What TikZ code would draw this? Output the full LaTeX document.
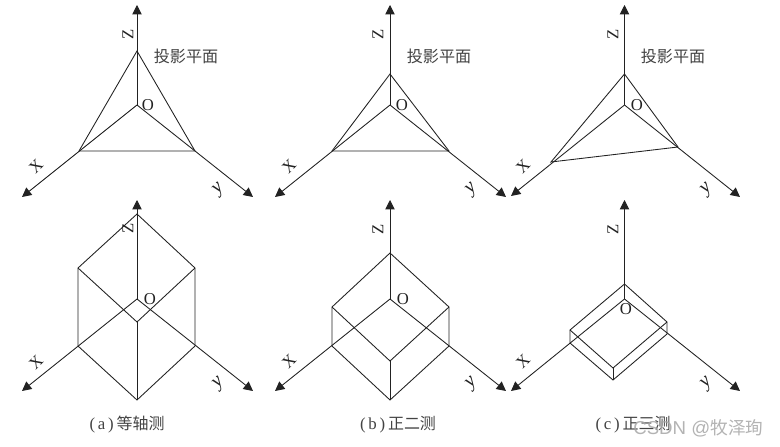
\documentclass[tikz,border=0pt]{standalone}
\usepackage{fontspec}
\setmainfont{Liberation Serif}
\newfontfamily\cjk{Noto Sans CJK SC}[Scale=0.95]
\newfontfamily\wm{Liberation Sans}
\usetikzlibrary{arrows.meta}
\definecolor{ink}{HTML}{222222}
\tikzset{
  ln/.style={draw=ink,line width=0.65pt},
  axis/.style={ln,-{Triangle[length=7pt,width=7pt]}},
  lab/.style={font=\fontsize{12.5}{13}\selectfont,text=ink,inner sep=0pt},
  zlab/.style={lab,rotate=90},
  xlab/.style={lab,rotate=45},
  ylab/.style={lab,font=\fontsize{15}{15}\selectfont\itshape,rotate=45},
  plane/.style={font=\fontsize{12.7}{13}\selectfont\cjk,text=ink!85,inner sep=0pt},
  capt/.style={font=\fontsize{12.6}{13}\selectfont,text=ink!85,inner sep=0pt},
  wmark/.style={font=\fontsize{14}{14}\selectfont\wm,text=gray!70,inner sep=0pt,opacity=.85},
  pt/.style={inner sep=0pt,minimum size=0pt}
}
\begin{document}
\begin{tikzpicture}[x=0.75pt,y=-0.75pt]
\useasboundingbox (0,0) rectangle (780,446);
\fill[white] (0,0) rectangle (780,446);

% --- panel a, top
\node[pt] (aO) at (137,105) {}; \node[pt] (aZ) at (137,5) {};
\node[pt] (aX) at (22,197) {}; \node[pt] (aY) at (253,197) {};
\node[pt] (aP) at (137,51) {}; \node[pt] (aQ) at (79,151) {}; \node[pt] (aR) at (195,151) {};
\draw[axis] (aO.center) -- (aZ.center);
\draw[axis] (aO.center) -- (aX.center);
\draw[axis] (aO.center) -- (aY.center);
\draw[ln] (aP.center) -- (aQ.center) -- (aR.center) -- cycle;
\node[zlab] (aZl) at (128,34) {Z};
\node[xlab] (aXl) at (36,166) {X};
\node[ylab] (aYl) at (219,190) {y};
\node[lab] (aOl) at (148,105) {O};
\node[plane] (aPl) at (186,56) {投影平面};

% --- panel a, bottom
\node[pt] (AO) at (137,299) {}; \node[pt] (AZ) at (137,200) {};
\node[pt] (AX) at (22,391) {}; \node[pt] (AY) at (253,391) {};
\node[pt] (At) at (137,214) {}; \node[pt] (Alu) at (78,268) {}; \node[pt] (All) at (78,346) {};
\node[pt] (Aru) at (195,268) {}; \node[pt] (Arl) at (195,346) {};
\node[pt] (Ab) at (137,400) {}; \node[pt] (Ac) at (137,322) {};
\draw[axis] (AO.center) -- (AZ.center);
\draw[axis] (AO.center) -- (AX.center);
\draw[axis] (AO.center) -- (AY.center);
\draw[ln] (At.center) -- (Alu.center) -- (All.center) -- (Ab.center) -- (Arl.center) -- (Aru.center) -- cycle;
\draw[ln] (Alu.center) -- (Ac.center) -- (Aru.center);
\draw[ln] (Ac.center) -- (Ab.center);
\node[zlab] (AZl) at (128,228) {Z};
\node[xlab] (AXl) at (36,362) {X};
\node[ylab] (AYl) at (219,384) {y};
\node[lab] (AOl) at (150,299) {O};
\node[capt] (Acap) at (127,425) {(\,a\,)\,{\cjk 等轴测}};

% --- panel b, top
\node[pt] (bO) at (390,105) {}; \node[pt] (bZ) at (390,5) {};
\node[pt] (bX) at (275,197) {}; \node[pt] (bY) at (506,197) {};
\node[pt] (bP) at (390,74) {}; \node[pt] (bQ) at (332,151) {}; \node[pt] (bR) at (449,151) {};
\draw[axis] (bO.center) -- (bZ.center);
\draw[axis] (bO.center) -- (bX.center);
\draw[axis] (bO.center) -- (bY.center);
\draw[ln] (bP.center) -- (bQ.center) -- (bR.center) -- cycle;
\node[zlab] (bZl) at (378,34) {Z};
\node[xlab] (bXl) at (289,166) {X};
\node[ylab] (bYl) at (472,190) {y};
\node[lab] (bOl) at (402,105) {O};
\node[plane] (bPl) at (439,56) {投影平面};

% --- panel b, bottom
\node[pt] (BO) at (390,299) {}; \node[pt] (BZ) at (390,200) {};
\node[pt] (BX) at (275,391) {}; \node[pt] (BY) at (506,391) {};
\node[pt] (Bt) at (390,253) {}; \node[pt] (Blu) at (332,307) {}; \node[pt] (Bll) at (332,346) {};
\node[pt] (Bru) at (449,307) {}; \node[pt] (Brl) at (449,346) {};
\node[pt] (Bb) at (390,400) {}; \node[pt] (Bc) at (390,361) {};
\draw[axis] (BO.center) -- (BZ.center);
\draw[axis] (BO.center) -- (BX.center);
\draw[axis] (BO.center) -- (BY.center);
\draw[ln] (Bt.center) -- (Blu.center) -- (Bll.center) -- (Bb.center) -- (Brl.center) -- (Bru.center) -- cycle;
\draw[ln] (Blu.center) -- (Bc.center) -- (Bru.center);
\draw[ln] (Bc.center) -- (Bb.center);
\node[zlab] (BZl) at (378,229) {Z};
\node[xlab] (BXl) at (289,361) {X};
\node[ylab] (BYl) at (472,384) {y};
\node[lab] (BOl) at (403,299) {O};
\node[capt] (Bcap) at (398,425) {(\,b\,)\,{\cjk 正二测}};

% --- panel c, top
\node[pt] (cO) at (624.5,105) {}; \node[pt] (cZ) at (624.5,5) {};
\node[pt] (cX) at (511,196) {}; \node[pt] (cY) at (740,197) {};
\node[pt] (cP) at (624.5,74) {}; \node[pt] (cQ) at (551,162) {}; \node[pt] (cR) at (678,147) {};
\draw[axis] (cO.center) -- (cZ.center);
\draw[axis] (cO.center) -- (cX.center);
\draw[axis] (cO.center) -- (cY.center);
\draw[ln] (cP.center) -- (cQ.center) -- (cR.center) -- cycle;
\node[zlab] (cZl) at (613,34) {Z};
\node[xlab] (cXl) at (523,166) {X};
\node[ylab] (cYl) at (707,190) {y};
\node[lab] (cOl) at (637,105) {O};
\node[plane] (cPl) at (673,56) {投影平面};

% --- panel c, bottom
\node[pt] (CO) at (624.5,299) {}; \node[pt] (CZ) at (624.5,200) {};
\node[pt] (CX) at (511,391) {}; \node[pt] (CY) at (740,391) {};
\node[pt] (Ct) at (624.5,284) {}; \node[pt] (Clu) at (570,330) {}; \node[pt] (Cll) at (570,343) {};
\node[pt] (Cru) at (667,322) {}; \node[pt] (Crl) at (667,334) {};
\node[pt] (Cb) at (613,380) {}; \node[pt] (Cc) at (613,368) {};
\draw[axis] (CO.center) -- (CZ.center);
\draw[axis] (CO.center) -- (CX.center);
\draw[axis] (CO.center) -- (CY.center);
\draw[ln] (Ct.center) -- (Clu.center) -- (Cll.center) -- (Cb.center) -- (Crl.center) -- (Cru.center) -- cycle;
\draw[ln] (Clu.center) -- (Cc.center) -- (Cru.center);
\draw[ln] (Cc.center) -- (Cb.center);
\node[zlab] (CZl) at (613,229) {Z};
\node[xlab] (CXl) at (523,361) {X};
\node[ylab] (CYl) at (707,384) {y};
\node[lab] (COl) at (626,309) {O};
\node[capt] (Ccap) at (633,425) {(\,c\,)\,{\cjk 正三测}};
\node[wmark,anchor=west] (wm) at (633,428) {CSDN @{\cjk 牧泽珣}};
\end{tikzpicture}
\end{document}
